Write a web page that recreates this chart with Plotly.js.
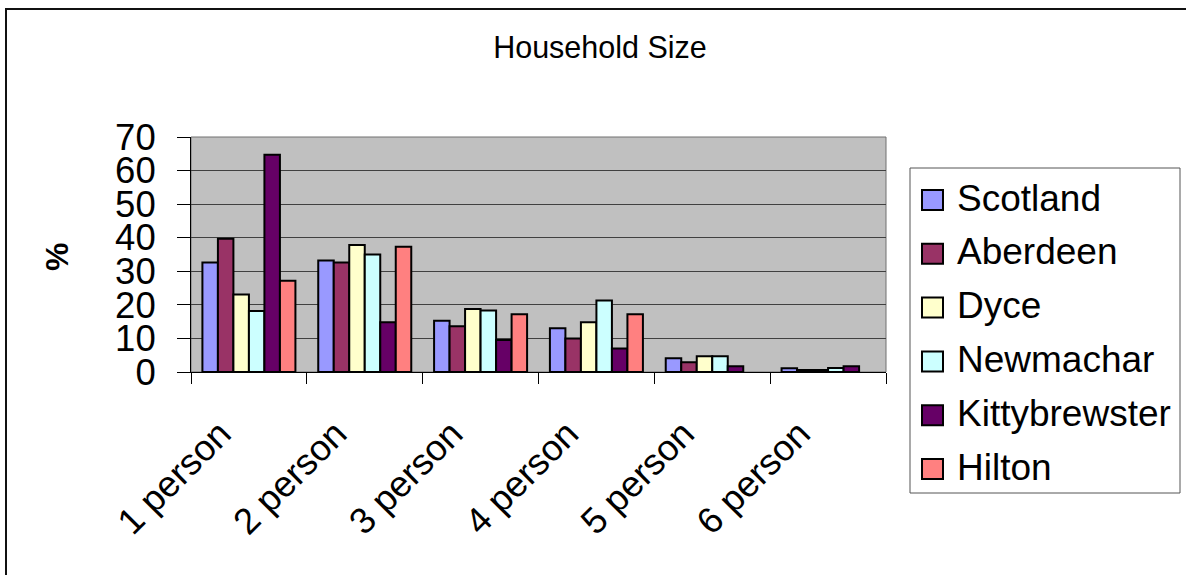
<!DOCTYPE html>
<html>
<head>
<meta charset="utf-8">
<script src="https://cdn.plot.ly/plotly-3.0.1.min.js"></script>
<style>
  html, body { margin: 0; padding: 0; background: #fff; }
  #chart { width: 1186px; height: 575px; }
</style>
</head>
<body>
<div id="chart"></div>
<script>
// ---- data ----
const categories = ["1 person", "2 person", "3 person", "4 person", "5 person", "6 person"];
const seriesNames = ["Scotland", "Aberdeen", "Dyce", "Newmachar", "Kittybrewster", "Hilton"];
const scotland      = [32.6, 33.2, 15.3, 13.0, 4.1, 1.1];
const aberdeen      = [39.7, 32.6, 13.6, 10.0, 2.9, 0.6];
const dyce          = [23.1, 37.8, 18.8, 14.8, 4.7, 0.6];
const newmachar     = [18.2, 35.0, 18.3, 21.3, 4.7, 1.2];
const kittybrewster = [64.7, 14.8,  9.5,  7.0, 1.7, 1.7];
const hilton        = [27.2, 37.3, 17.2, 17.2, 0.0, 0.0];
const seriesValues = [scotland, aberdeen, dyce, newmachar, kittybrewster, hilton];
const colors = ["#9999FF", "#993366", "#FFFFCC", "#CCFFFF", "#660066", "#FF8080"];
const yTicks = [0, 10, 20, 30, 40, 50, 60, 70];

// ---- layout geometry (pixels) ----
const W = 1186, H = 575;
const M = { l: 191, r: 300, t: 137, b: 203 };
const PW = W - M.l - M.r, PH = H - M.t - M.b;
const px = x => (x - M.l) / PW;
const py = y => (H - M.b - y) / PH;
const FONT = "Liberation Sans, Arial, sans-serif";
const PAD = "\u00A0\u00A0\u00A0\u00A0"; // shifts rotated labels along their diagonal

const traces = seriesNames.map((name, i) => ({
  type: "bar",
  name: name,
  x: categories,
  y: seriesValues[i],
  marker: {
    color: colors[i],
    line: { color: "#000", width: seriesValues[i].map(v => (v > 0 ? 2 : 0)) }
  },
  hoverinfo: "name+y"
}));

const shapes = [];
const annotations = [];

// plot-area border
shapes.push({ type: "rect", xref: "paper", yref: "paper", x0: 0, x1: 1, y0: 0, y1: 1,
  line: { color: "#707070", width: 1 }, layer: "below" });

// outer chart border (left & top visible)
shapes.push({ type: "rect", xref: "paper", yref: "paper",
  x0: px(6), x1: px(1200), y0: py(590), y1: py(9),
  line: { color: "#111", width: 2 } });

// custom legend
shapes.push({ type: "rect", xref: "paper", yref: "paper",
  x0: px(910), x1: px(1180), y0: py(493), y1: py(168),
  line: { color: "#555", width: 1 }, fillcolor: "#fff" });
seriesNames.forEach((name, i) => {
  const cy = 200 + 53.8 * i;
  shapes.push({ type: "rect", xref: "paper", yref: "paper",
    x0: px(922), x1: px(943), y0: py(cy + 10), y1: py(cy - 10),
    line: { color: "#000", width: 2 }, fillcolor: colors[i] });
  annotations.push({ xref: "paper", yref: "paper", x: px(955), y: py(cy - 2),
    xanchor: "left", yanchor: "middle", showarrow: false, text: name,
    font: { family: FONT, size: 37, color: "#000" } });
});

// y-axis label
annotations.push({ xref: "paper", yref: "paper", x: px(57), y: py(257),
  xanchor: "center", yanchor: "middle", showarrow: false, text: "<b>%</b>",
  textangle: -90, font: { family: FONT, size: 32, color: "#000" } });

const layout = {
  width: W, height: H, autosize: false,
  margin: M,
  paper_bgcolor: "#fff",
  plot_bgcolor: "#C0C0C0",
  font: { family: FONT, color: "#000" },
  title: { text: "Household Size", font: { family: FONT, size: 30.5, color: "#000" },
    xref: "container", yref: "container", x: 600 / W, y: 1 - 47 / H,
    xanchor: "center", yanchor: "middle" },
  showlegend: false,
  barmode: "group",
  bargap: 0.197,
  bargroupgap: 0,
  xaxis: {
    type: "category",
    tickmode: "array",
    tickvals: categories,
    ticktext: categories.map(c => c + PAD),
    showline: true, linecolor: "#000", linewidth: 1,
    ticks: "outside", tickson: "boundaries", ticklen: 11, tickcolor: "#000", tickwidth: 1,
    tickangle: -45,
    tickfont: { family: FONT, size: 36.5, color: "#000" },
    ticklabelstandoff: -4,
    showgrid: false, zeroline: false,
    fixedrange: true
  },
  yaxis: {
    range: [0, 70],
    tickvals: yTicks,
    ticktext: yTicks.map(String),
    showline: true, linecolor: "#000", linewidth: 1,
    ticks: "outside", ticklen: 13, tickcolor: "#000", tickwidth: 1,
    tickfont: { family: FONT, size: 36.5, color: "#000" },
    ticklabelstandoff: 14,
    showgrid: true, gridcolor: "#404040", gridwidth: 1,
    zeroline: false,
    fixedrange: true
  },
  shapes: shapes,
  annotations: annotations
};

Plotly.newPlot("chart", traces, layout, { displayModeBar: false, staticPlot: true });
</script>
</body>
</html>
